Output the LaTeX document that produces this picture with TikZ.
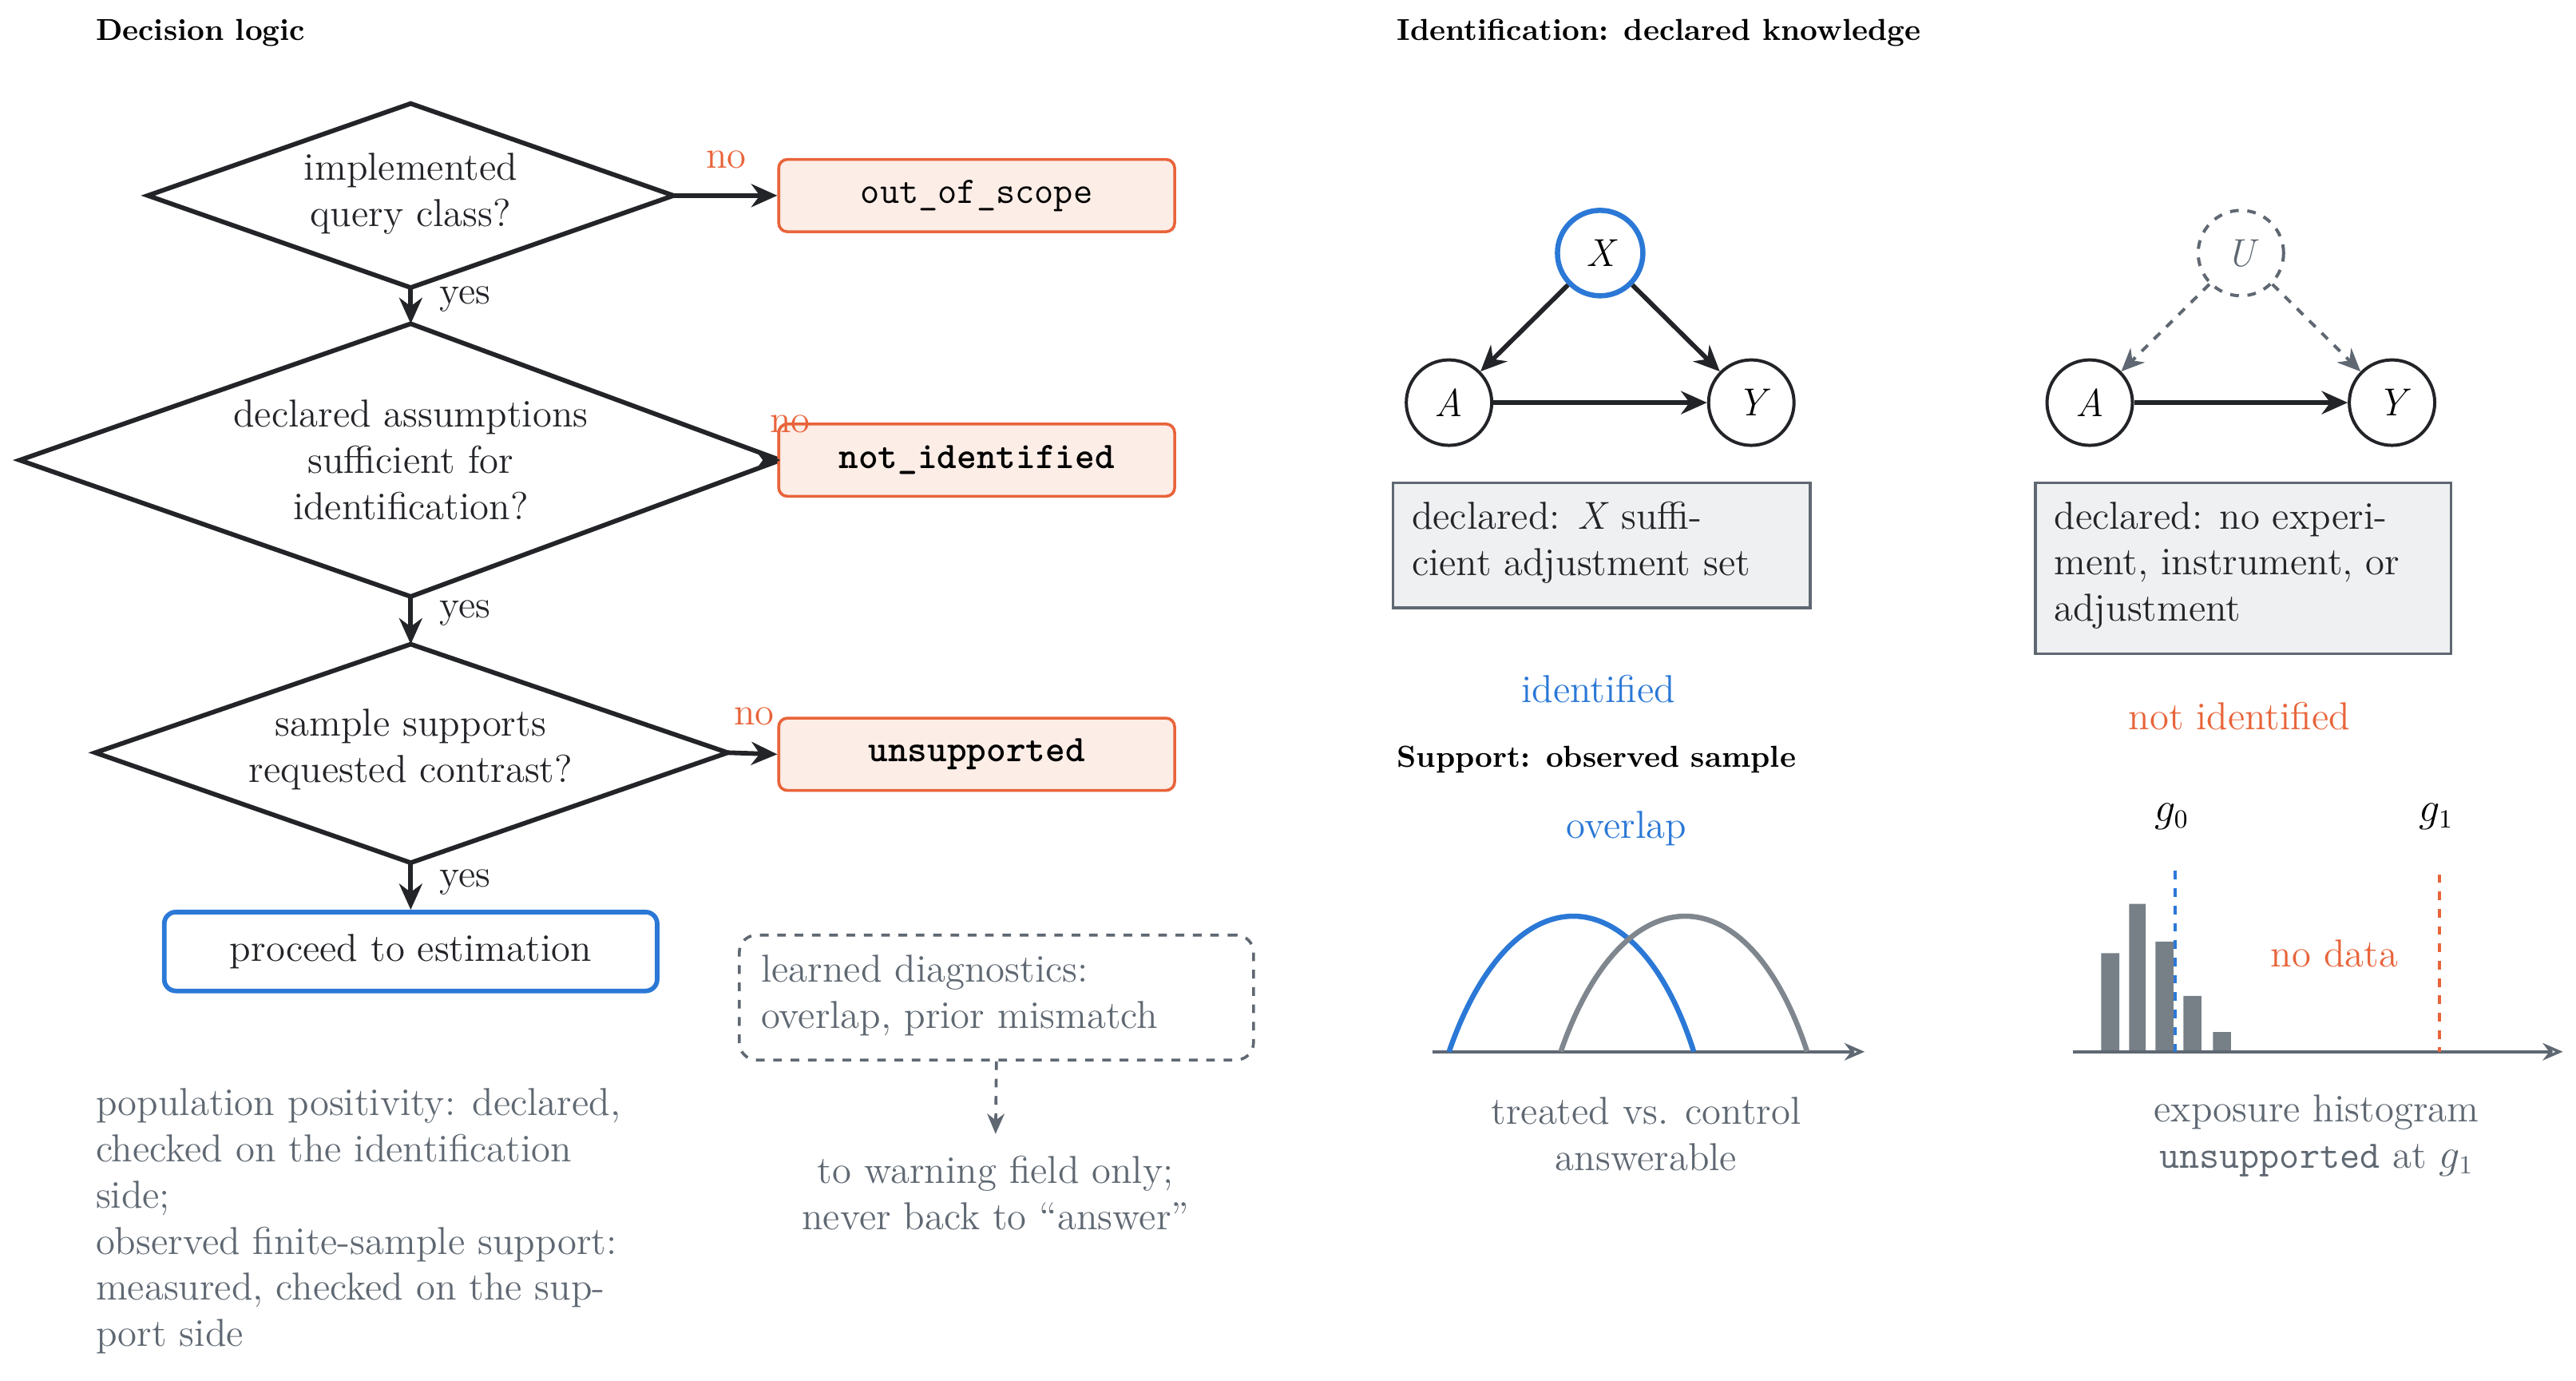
\documentclass[tikz,border=0pt]{standalone}
\usetikzlibrary{arrows.meta,calc}
\definecolor{org}{HTML}{E8643A}
\definecolor{blu}{HTML}{2B78D6}
\definecolor{gtx}{HTML}{5F6872}
\definecolor{drk}{HTML}{222428}
\definecolor{orgfill}{HTML}{FCEDE6}
\definecolor{grfill}{HTML}{EEF0F2}
\begin{document}
\begin{tikzpicture}[x=0.02cm,y=-0.02cm,
  every node/.style={font=\fontsize{13.5}{16}\selectfont},
  dia/.style={draw=drk,line width=1.6pt},
  txt/.style={align=center,text=drk},
  obox/.style={draw=org,fill=orgfill,rounded corners=3pt,line width=1pt,minimum width=241*0.02cm,minimum height=44*0.02cm,font=\fontsize{13}{15}\ttfamily},
  arr/.style={-{Stealth[length=9pt,width=8pt]},line width=1.6pt,draw=drk},
  nolab/.style={text=org},
  title/.style={font=\fontsize{10.5}{12}\bfseries\selectfont,anchor=west,inner sep=0pt},
  gtext/.style={text=gtx,align=left,anchor=north west,inner sep=0pt},
  circ/.style={circle,draw=drk,line width=1.1pt,minimum size=52*0.02cm,inner sep=0pt,font=\fontsize{13.5}{16}\itshape},
  decl/.style={draw=gtx,fill=grfill,line width=1pt,align=left,anchor=north west,inner sep=0pt,text=drk}
]
\useasboundingbox (0,0) rectangle (1568,840);
\node[title] (t1) at (58,20) {Decision logic};
\coordinate (d1t) at (250,63); \coordinate (d1b) at (250,175); \coordinate (d1l) at (90,119); \coordinate (d1r) at (410,119);
\draw[dia] (d1t)--(d1r)--(d1b)--(d1l)--cycle;
\node[txt] (d1) at (250,118) {implemented\\query class?};
\coordinate (d2t) at (250,197); \coordinate (d2b) at (250,363); \coordinate (d2l) at (12,280); \coordinate (d2r) at (475,280);
\draw[dia] (d2t)--(d2r)--(d2b)--(d2l)--cycle;
\node[txt] (d2) at (250,280) {declared assumptions\\sufficient for\\identification?};
\coordinate (d3t) at (250,392); \coordinate (d3b) at (250,525); \coordinate (d3l) at (58,458); \coordinate (d3r) at (443,458);
\draw[dia] (d3t)--(d3r)--(d3b)--(d3l)--cycle;
\node[txt] (d3) at (250,456) {sample supports\\requested contrast?};
\node[draw=blu,line width=1.6pt,rounded corners=4pt,minimum width=300*0.02cm,minimum height=48*0.02cm,text=drk] (pr) at (250,579) {proceed to estimation};
\node[obox] (oos) at (594.5,119) {out\_of\_scope};
\node[obox] (nid) at (594.5,280) {\bfseries not\_identified};
\node[obox] (uns) at (594.5,459) {\bfseries unsupported};
\draw[arr] (d1r) -- (oos.west);
\draw[arr] (nid.west) -- ++(-1,0) -- (d2r);
\draw[arr] (d3r) -- (uns.west);
\node[nolab] (n1) at (442,97) {no};
\node[nolab] (n2) at (481,258) {no};
\node[nolab] (n3) at (459,436) {no};
\draw[arr] (d1b) -- (d2t); \node[text=drk] (y1) at (283,182) {yes};
\draw[arr] (d2b) -- (d3t); \node[text=drk] (y2) at (283,373) {yes};
\draw[arr] (d3b) -- (pr.north); \node[text=drk] (y3) at (283,537) {yes};
\node[draw=gtx,dashed,line width=1pt,rounded corners=6pt,minimum width=313*0.02cm,minimum height=76*0.02cm] (dg) at (606.5,607) {};
\node[gtext] (dgt) at (463,581) {learned diagnostics:\\overlap, prior mismatch};
\coordinate (dge) at (606,690);
\draw[-{Stealth[length=7pt,width=6pt]},dashed,line width=1pt,draw=gtx] (dg.south) -- (dge);
\node[text=gtx,align=center] (warn) at (606,726) {to warning field only;\\never back to ``answer''};
\node[gtext] (pop) at (58,662) {population positivity: declared,\\checked on the identification\\side;\\observed finite-sample support:\\measured, checked on the sup-\\port side};
\node[title] (t2) at (850,20) {Identification: declared knowledge};
\node[circ,draw=blu,line width=1.8pt] (X) at (974,154) {X};
\node[circ] (A1) at (882,245) {A};
\node[circ] (Y1) at (1066,245) {Y};
\draw[arr] (X) -- (A1); \draw[arr] (X) -- (Y1); \draw[arr] (A1) -- (Y1);
\node[decl,minimum width=254*0.02cm,minimum height=76*0.02cm] (b1) at (847,293) {};
\node[gtext,text=drk] (b1t) at (859,305) {declared: \textit{X} suffi-\\cient adjustment set};
\node[text=blu] (idl) at (973,419) {identified};
\node[circ,draw=gtx,dashed,text=gtx] (U) at (1364,154) {U};
\node[circ] (A2) at (1272,245) {A};
\node[circ] (Y2) at (1456,245) {Y};
\draw[-{Stealth[length=8pt,width=7pt]},dashed,line width=1.1pt,draw=gtx] (U) -- (A2);
\draw[-{Stealth[length=8pt,width=7pt]},dashed,line width=1.1pt,draw=gtx] (U) -- (Y2);
\draw[arr] (A2) -- (Y2);
\node[decl,minimum width=253*0.02cm,minimum height=104*0.02cm] (b2) at (1238,293) {};
\node[gtext,text=drk] (b2t) at (1250,305) {declared: no experi-\\ment, instrument, or\\adjustment};
\node[text=org] (nidl) at (1363,436) {not identified};
\node[title] (t3) at (850,462) {Support: observed sample};
\node[text=blu] (ov) at (990,504) {overlap};
\coordinate (ax1a) at (872,640); \coordinate (ax1b) at (1135,640);
\draw[-{Stealth[length=7pt,width=6pt,open]},gtx,line width=1pt] (ax1a) -- (ax1b);
\draw[blu,line width=1.8pt] (882,640) .. controls (920,530) and (996,530) .. (1031,640);
\draw[gtx!80,line width=1.8pt] (950,640) .. controls (988,530) and (1064,530) .. (1100,640);
\node[text=gtx,align=center] (tc) at (1002,690) {treated vs. control\\answerable};
\coordinate (ax2a) at (1262,640); \coordinate (ax2b) at (1560,640);
\fill[gtx!85] (1279,580) rectangle (1290,640) (1296,550) rectangle (1306,640) (1312,573) rectangle (1323,640) (1329,606) rectangle (1340,640) (1347,628) rectangle (1358,640);
\draw[-{Stealth[length=7pt,width=6pt,open]},gtx,line width=1pt] (ax2a) -- (ax2b);
\draw[blu,dashed,line width=1pt] (1324,530) -- (1324,640);
\draw[org,dashed,line width=1pt] (1485,532) -- (1485,640);
\node (g0) at (1322,497) {$g_0$};
\node (g1) at (1483,497) {$g_1$};
\node[text=org] (nd) at (1421,580) {no data};
\node[text=gtx,align=center] (eh) at (1410,691) {exposure histogram\\{\ttfamily unsupported} at $g_1$};
\end{tikzpicture}
\end{document}
